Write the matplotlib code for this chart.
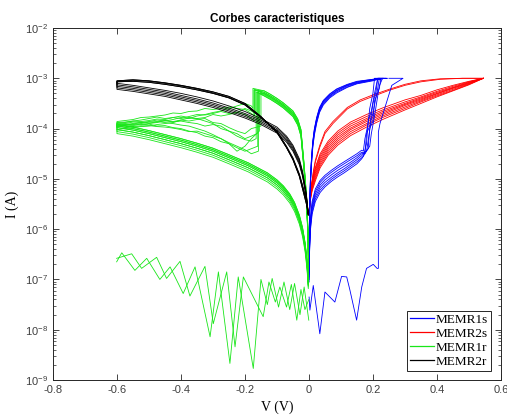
import numpy as np
import matplotlib
matplotlib.use('Agg')
from matplotlib import pyplot as plt

# ---- MEMR2r (black): aller 0 -> -0.6 V puis retour -0.6 -> 0 V, log10(I)
v_k_out = [-0.002, -0.008, -0.02, -0.03, -0.05, -0.07, -0.1, -0.15, -0.2, -0.25, -0.3, -0.35, -0.4, -0.45, -0.5, -0.55, -0.6]
logi_k_out = [
    [-5.72, -5.5, -5.2, -4.95, -4.62, -4.38, -4.08, -3.76, -3.5, -3.36, -3.27, -3.2, -3.14, -3.09, -3.05, -3.03, -3.05],
    [-5.7, -5.45, -5.15, -4.92, -4.6, -4.37, -4.06, -3.78, -3.53, -3.39, -3.3, -3.23, -3.17, -3.12, -3.08, -3.06, -3.07],
    [-5.68, -5.42, -5.12, -4.9, -4.58, -4.35, -4.05, -3.77, -3.52, -3.38, -3.29, -3.21, -3.15, -3.1, -3.06, -3.04, -3.06],
]
logi_k_in = [
    [-5.7, -5.3, -4.85, -4.6, -4.33, -4.15, -3.97, -3.8, -3.66, -3.55, -3.45, -3.37, -3.3, -3.24, -3.19, -3.14, -3.1],
    [-5.7, -5.32, -4.88, -4.63, -4.36, -4.18, -4.0, -3.83, -3.7, -3.59, -3.49, -3.41, -3.34, -3.27, -3.22, -3.17, -3.13],
    [-5.71, -5.34, -4.9, -4.66, -4.39, -4.21, -4.03, -3.86, -3.73, -3.62, -3.52, -3.44, -3.37, -3.3, -3.25, -3.2, -3.16],
    [-5.71, -5.36, -4.93, -4.69, -4.42, -4.24, -4.06, -3.89, -3.76, -3.65, -3.55, -3.47, -3.4, -3.33, -3.28, -3.23, -3.19],
    [-5.72, -5.38, -4.95, -4.72, -4.45, -4.27, -4.09, -3.92, -3.79, -3.68, -3.58, -3.5, -3.43, -3.36, -3.31, -3.26, -3.22],
]

# ---- MEMR1r (green): montee, reset, plateau bruite, retour
v_g_arc = [-0.001, -0.003, -0.008, -0.015, -0.025, -0.035, -0.05, -0.08, -0.1, -0.12, -0.14]
logi_g_arc = [
    [-7.0, -6.1, -5.4, -4.8, -4.1, -3.88, -3.72, -3.55, -3.46, -3.38, -3.31],
    [-6.95, -6.05, -5.35, -4.75, -4.05, -3.84, -3.68, -3.52, -3.43, -3.35, -3.28],
    [-7.05, -6.15, -5.45, -4.85, -4.15, -3.93, -3.76, -3.59, -3.5, -3.42, -3.35],
    [-6.9, -6.0, -5.3, -4.72, -4.02, -3.81, -3.65, -3.49, -3.4, -3.32, -3.25],
    [-7.0, -6.12, -5.42, -4.82, -4.12, -3.9, -3.74, -3.57, -3.48, -3.4, -3.33],
    [-6.98, -6.08, -5.38, -4.78, -4.08, -3.86, -3.7, -3.54, -3.45, -3.37, -3.3],
]
v_g_peak = [-0.16, -0.17, -0.155, -0.175, -0.165, -0.15, -0.158, -0.172, -0.162, -0.168]
logi_g_peak = [-3.26, -3.22, -3.3, -3.2, -3.27, -3.3, -3.25, -3.23, -3.28, -3.24]
logi_g_drop = [-4.35, -3.75, -4.05, -3.6, -4.2, -3.95, -4.45, -3.85, -4.1, -3.7]
v_g_post = [-0.18, -0.2, -0.225, -0.25, -0.275, -0.3, -0.325, -0.35, -0.375, -0.4, -0.425, -0.45, -0.475, -0.5, -0.525, -0.55, -0.575, -0.6]
logi_g_post = [
    [-4.4, -4.45, -4.38, -4.3, -4.26, -4.18, -4.15, -4.08, -4.05, -4.0, -3.98, -3.94, -3.95, -3.91, -3.93, -3.9, -3.92, -3.93],
    [-3.7, -3.62, -3.6, -3.57, -3.6, -3.62, -3.6, -3.65, -3.66, -3.7, -3.69, -3.73, -3.75, -3.77, -3.78, -3.82, -3.84, -3.86],
    [-4.2, -4.35, -4.45, -4.3, -4.2, -4.12, -4.05, -4.0, -3.95, -3.93, -3.9, -3.88, -3.86, -3.87, -3.9, -3.92, -3.91, -3.94],
    [-3.55, -3.5, -3.55, -3.6, -3.65, -3.68, -3.72, -3.75, -3.8, -3.78, -3.82, -3.85, -3.83, -3.86, -3.88, -3.87, -3.9, -3.9],
    [-4.25, -4.22, -4.15, -4.05, -4.0, -3.9, -3.85, -3.8, -3.78, -3.75, -3.78, -3.8, -3.77, -3.8, -3.83, -3.85, -3.87, -3.88],
    [-4.0, -4.1, -4.05, -3.98, -3.9, -3.88, -3.8, -3.82, -3.85, -3.83, -3.88, -3.9, -3.92, -3.95, -3.96, -3.98, -4.0, -4.02],
    [-4.5, -4.42, -4.35, -4.28, -4.2, -4.15, -4.1, -4.05, -4.06, -4.02, -3.99, -3.97, -3.96, -3.94, -3.95, -3.96, -3.95, -3.97],
    [-3.8, -3.72, -3.68, -3.7, -3.66, -3.7, -3.73, -3.72, -3.76, -3.8, -3.78, -3.82, -3.81, -3.84, -3.86, -3.85, -3.88, -3.89],
    [-4.15, -4.2, -4.1, -4.05, -3.95, -3.92, -3.95, -3.9, -3.88, -3.85, -3.87, -3.84, -3.87, -3.89, -3.88, -3.91, -3.93, -3.95],
    [-3.65, -3.6, -3.68, -3.72, -3.75, -3.72, -3.78, -3.8, -3.79, -3.83, -3.86, -3.84, -3.88, -3.9, -3.92, -3.94, -3.93, -3.96],
]
v_g_ret = [-0.6, -0.55, -0.5, -0.45, -0.4, -0.35, -0.3, -0.25, -0.22, -0.19, -0.16, -0.13, -0.1, -0.08, -0.06, -0.045, -0.03, -0.02, -0.012, -0.006, -0.002]
logi_g_ret = [
    [-3.92, -3.97, -4.04, -4.12, -4.2, -4.29, -4.39, -4.52, -4.6, -4.68, -4.78, -4.88, -5.02, -5.14, -5.3, -5.47, -5.72, -5.97, -6.27, -6.62, -7.05],
    [-3.95, -4.0, -4.07, -4.15, -4.23, -4.32, -4.42, -4.55, -4.63, -4.71, -4.81, -4.91, -5.05, -5.17, -5.33, -5.5, -5.75, -6.0, -6.3, -6.65, -7.07],
    [-3.98, -4.03, -4.1, -4.18, -4.26, -4.35, -4.45, -4.58, -4.66, -4.74, -4.84, -4.94, -5.08, -5.2, -5.36, -5.53, -5.78, -6.03, -6.33, -6.68, -7.1],
    [-4.02, -4.07, -4.14, -4.22, -4.3, -4.39, -4.49, -4.62, -4.7, -4.78, -4.88, -4.98, -5.12, -5.24, -5.4, -5.57, -5.82, -6.07, -6.37, -6.72, -7.12],
    [-4.06, -4.11, -4.18, -4.26, -4.34, -4.43, -4.53, -4.66, -4.74, -4.82, -4.92, -5.02, -5.16, -5.28, -5.44, -5.61, -5.86, -6.11, -6.41, -6.76, -7.15],
    [-4.1, -4.15, -4.22, -4.3, -4.38, -4.47, -4.57, -4.7, -4.78, -4.86, -4.96, -5.06, -5.2, -5.32, -5.48, -5.65, -5.9, -6.15, -6.45, -6.8, -7.18],
]
# cycle MEMR1r sans commutation (courant de fuite)
v_g_low_a = [-0.601, -0.585, -0.544, -0.507, -0.466, -0.434, -0.393, -0.356, -0.309, -0.283, -0.247, -0.221, -0.174, -0.15, -0.13, -0.115, -0.095, -0.078, -0.06, -0.045, -0.028, -0.015, -0.0005]
logi_g_low_a = [-6.65, -6.47, -6.82, -6.58, -7.0, -6.75, -7.28, -6.75, -8.14, -6.85, -8.67, -6.95, -8.77, -7.0, -7.5, -6.98, -7.55, -7.05, -7.6, -7.08, -7.7, -7.15, -7.81]
v_g_low_b = [-0.601, -0.554, -0.523, -0.476, -0.445, -0.403, -0.372, -0.325, -0.299, -0.257, -0.231, -0.205, -0.143, -0.125, -0.105, -0.091, -0.07, -0.055, -0.038, -0.025, -0.0125, -0.0005]
logi_g_low_b = [-6.58, -6.49, -6.78, -6.56, -6.98, -6.64, -7.33, -6.74, -7.88, -6.85, -8.34, -6.95, -7.74, -7.05, -7.45, -7.15, -7.55, -7.1, -7.81, -7.2, -7.6, -7.4]

# ---- MEMR1s (blue): branche basse, saut SET, compliance, retour
v_b_low = [0.0005, 0.002, 0.005, 0.01, 0.02, 0.035, 0.05, 0.07, 0.09, 0.11, 0.13, 0.15, 0.165]
logi_b_low = [
    [-6.8, -6.2, -5.75, -5.45, -5.2, -5.03, -4.93, -4.83, -4.74, -4.66, -4.58, -4.5, -4.43],
    [-6.85, -6.25, -5.8, -5.5, -5.25, -5.07, -4.97, -4.87, -4.78, -4.7, -4.62, -4.54, -4.47],
    [-6.9, -6.3, -5.85, -5.55, -5.3, -5.12, -5.02, -4.92, -4.83, -4.75, -4.67, -4.58, -4.5],
    [-6.95, -6.35, -5.9, -5.6, -5.35, -5.17, -5.07, -4.97, -4.88, -4.8, -4.71, -4.62, -4.54],
    [-7.0, -6.4, -5.95, -5.65, -5.4, -5.22, -5.12, -5.01, -4.92, -4.84, -4.75, -4.66, -4.58],
    [-7.05, -6.45, -6.0, -5.7, -5.45, -5.27, -5.16, -5.05, -4.96, -4.88, -4.79, -4.7, -4.6],
]
v_b_set = [
    [0.17, 0.175, 0.185, 0.19, 0.2, 0.205],
    [0.175, 0.18, 0.19, 0.2, 0.21, 0.215],
    [0.18, 0.185, 0.195, 0.2, 0.215, 0.22],
    [0.185, 0.19, 0.2, 0.205, 0.22, 0.225],
    [0.17, 0.18, 0.185, 0.195, 0.205, 0.215],
    [0.19, 0.195, 0.205, 0.21, 0.22, 0.23],
]
logi_b_set = [
    [-4.45, -4.2, -3.9, -3.6, -3.3, -3.0],
    [-4.5, -4.1, -3.95, -3.5, -3.25, -3.0],
    [-4.45, -4.25, -3.8, -3.7, -3.2, -3.0],
    [-4.4, -4.0, -3.85, -3.45, -3.2, -3.0],
    [-4.55, -4.3, -3.85, -3.65, -3.3, -3.0],
    [-4.35, -4.1, -3.75, -3.55, -3.15, -3.0],
]
v_b_top = [0.22, 0.23, 0.235, 0.24, 0.225, 0.245]
v_b_up = [0.2, 0.15, 0.12, 0.087, 0.065, 0.045, 0.033, 0.024, 0.017, 0.012, 0.008, 0.005, 0.003, 0.0015, 0.0005]
logi_b_up = [
    [-3.02, -3.07, -3.13, -3.22, -3.32, -3.45, -3.6, -3.8, -4.02, -4.27, -4.6, -4.95, -5.35, -5.85, -6.55],
    [-3.03, -3.09, -3.15, -3.25, -3.35, -3.48, -3.63, -3.84, -4.06, -4.31, -4.65, -5.0, -5.4, -5.9, -6.6],
    [-3.04, -3.1, -3.17, -3.27, -3.37, -3.51, -3.66, -3.87, -4.1, -4.35, -4.7, -5.05, -5.45, -5.95, -6.65],
    [-3.03, -3.08, -3.14, -3.24, -3.34, -3.47, -3.62, -3.82, -4.04, -4.29, -4.62, -4.97, -5.38, -5.88, -6.58],
    [-3.05, -3.11, -3.18, -3.29, -3.39, -3.53, -3.68, -3.9, -4.13, -4.38, -4.72, -5.08, -5.48, -5.98, -6.7],
    [-3.02, -3.06, -3.12, -3.21, -3.31, -3.44, -3.58, -3.78, -4.0, -4.25, -4.58, -4.92, -5.32, -5.82, -6.5],
]
# premier cycle MEMR1s (etat vierge)
v_b_first = [0.0005, 0.003, 0.0135, 0.034, 0.05, 0.081, 0.102, 0.118, 0.128, 0.149, 0.165, 0.18, 0.201, 0.213, 0.217, 0.217, 0.222, 0.259, 0.294, 0.25]
logi_b_first = [-7.35, -7.61, -7.12, -8.08, -7.25, -7.45, -6.94, -6.95, -7.21, -7.81, -7.15, -6.78, -6.7, -6.78, -6.78, -4.07, -3.9, -3.14, -3.0, -3.0]

# ---- MEMR2s (red): branche basse jusqu'a 0.545 V et retour
v_r_low = [0.001, 0.004, 0.01, 0.02, 0.035, 0.06, 0.09, 0.13, 0.18, 0.23, 0.3, 0.35, 0.4, 0.45, 0.5, 0.545]
logi_r_low = [
    [-5.6, -5.3, -5.03, -4.77, -4.5, -4.25, -4.05, -3.87, -3.72, -3.59, -3.43, -3.34, -3.23, -3.14, -3.06, -3.0],
    [-5.6, -5.32, -5.06, -4.8, -4.54, -4.29, -4.09, -3.91, -3.76, -3.63, -3.47, -3.37, -3.26, -3.16, -3.07, -3.0],
    [-5.61, -5.34, -5.09, -4.84, -4.58, -4.33, -4.13, -3.95, -3.8, -3.66, -3.5, -3.39, -3.28, -3.18, -3.08, -3.0],
    [-5.62, -5.36, -5.12, -4.88, -4.62, -4.37, -4.17, -3.99, -3.83, -3.69, -3.52, -3.41, -3.3, -3.19, -3.09, -3.0],
    [-5.62, -5.38, -5.15, -4.92, -4.66, -4.41, -4.21, -4.02, -3.86, -3.72, -3.54, -3.43, -3.31, -3.2, -3.1, -3.0],
    [-5.63, -5.4, -5.18, -4.96, -4.7, -4.45, -4.25, -4.06, -3.9, -3.75, -3.57, -3.45, -3.33, -3.22, -3.11, -3.0],
    [-5.63, -5.42, -5.21, -5.0, -4.74, -4.49, -4.29, -4.1, -3.93, -3.78, -3.6, -3.47, -3.35, -3.24, -3.12, -3.0],
    [-5.64, -5.44, -5.24, -5.04, -4.78, -4.53, -4.33, -4.14, -3.97, -3.82, -3.63, -3.5, -3.37, -3.25, -3.13, -3.0],
]
v_r_up = [0.545, 0.48, 0.41, 0.35, 0.3, 0.25, 0.2, 0.16, 0.12, 0.075, 0.05, 0.034, 0.02, 0.013, 0.006, 0.002]
logi_r_up = [
    [-3.0, -3.0, -3.01, -3.05, -3.12, -3.22, -3.33, -3.43, -3.58, -3.86, -4.06, -4.33, -4.63, -4.88, -5.25, -5.6],
    [-3.0, -3.0, -3.02, -3.07, -3.14, -3.24, -3.36, -3.46, -3.61, -3.9, -4.1, -4.37, -4.67, -4.92, -5.28, -5.62],
]

labels = ['MEMR1s', 'MEMR2s', 'MEMR1r', 'MEMR2r']
colors = ['#0000ff', '#ff0000', '#19e619', '#000000']

plt.rcParams['font.family'] = ['Liberation Sans', 'DejaVu Sans']
plt.rcParams['mathtext.fontset'] = 'custom'
plt.rcParams['mathtext.rm'] = 'Liberation Sans'
plt.rcParams['mathtext.it'] = 'Liberation Sans:italic'
plt.rcParams['mathtext.bf'] = 'Liberation Sans:bold'

fig = plt.figure(figsize=(5.07, 4.15), dpi=100)
ax = fig.add_axes([0.1045, 0.0843, 0.8835, 0.8482])
lw = 0.6


def cur(logs):
    return 10.0 ** np.asarray(logs, dtype=float)


# rouge
for lg in logi_r_low:
    ax.plot(v_r_low, cur(lg), color=colors[1], lw=lw)
for lg in logi_r_up:
    ax.plot(v_r_up, cur(lg), color=colors[1], lw=lw)

# bleu
for k in range(len(logi_b_low)):
    v = v_b_low + v_b_set[k] + [v_b_top[k]] + v_b_up
    lg = logi_b_low[k] + logi_b_set[k] + [-3.0] + logi_b_up[k]
    ax.plot(v, cur(lg), color=colors[0], lw=lw)
ax.plot(v_b_first, cur(logi_b_first), color=colors[0], lw=lw)

# vert
for k in range(len(logi_g_post)):
    arc = logi_g_arc[k % len(logi_g_arc)]
    ret = logi_g_ret[k % len(logi_g_ret)]
    v = v_g_arc + [v_g_peak[k], v_g_peak[k]] + v_g_post + v_g_ret
    lg = arc + [logi_g_peak[k], logi_g_drop[k]] + logi_g_post[k] + ret
    ax.plot(v, cur(lg), color=colors[2], lw=lw)
ax.plot(v_g_low_a, cur(logi_g_low_a), color=colors[2], lw=lw)
ax.plot(v_g_low_b, cur(logi_g_low_b), color=colors[2], lw=lw)

# noir
for k in range(len(logi_k_in)):
    out = logi_k_out[k % len(logi_k_out)]
    v = v_k_out + v_k_out[::-1]
    lg = out + logi_k_in[k][::-1]
    ax.plot(v, cur(lg), color=colors[3], lw=lw)

ax.set_yscale('log')
ax.set_xlim(-0.8, 0.6)
ax.set_ylim(1e-9, 1e-2)
ax.set_xticks(np.arange(-0.8, 0.61, 0.2))
ax.set_xticklabels(['-0.8', '-0.6', '-0.4', '-0.2', '0', '0.2', '0.4', '0.6'])
ax.set_yticks([10.0 ** e for e in range(-9, -1)])

axcol = '#262626'
ax.tick_params(which='both', direction='in', top=True, right=True, colors=axcol, labelcolor='#404040')
ax.tick_params(which='major', length=4, width=0.6, labelsize=8)
ax.tick_params(which='minor', length=2, width=0.5)
for s in ax.spines.values():
    s.set_color(axcol)
    s.set_linewidth(0.7)

ax.set_title('Corbes caracteristiques', fontsize=8.5, fontweight='bold', pad=4)
ax.set_xlabel('V (V)', family='Liberation Serif', fontsize=10, labelpad=4)
ax.set_ylabel('I (A)', family='Liberation Serif', fontsize=10, labelpad=4)

handles = [plt.Line2D([], [], color=c, lw=0.9) for c in colors]
leg = ax.legend(handles, labels, loc='lower right', bbox_to_anchor=(0.978, 0.026),
                prop={'family': 'Liberation Serif', 'size': 9.5},
                frameon=True, fancybox=False, edgecolor='#262626', framealpha=1,
                borderpad=0.25, labelspacing=0.12, handlelength=1.8, handletextpad=0.1,
                borderaxespad=0)
leg.get_frame().set_linewidth(0.7)

fig.savefig('out.png', dpi=100)
